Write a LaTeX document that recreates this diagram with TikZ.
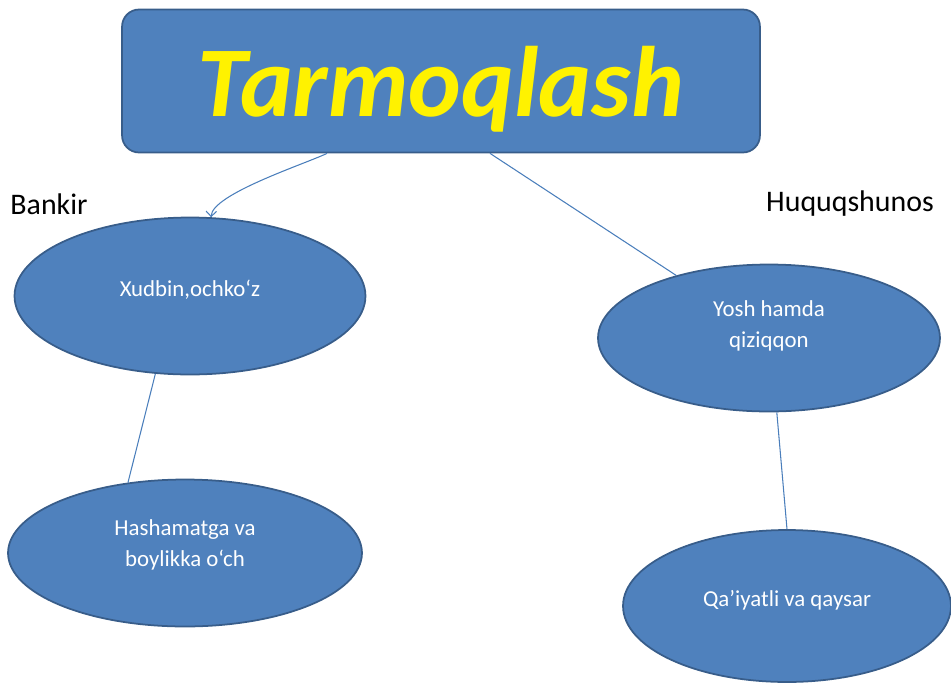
\documentclass[tikz,border=0pt]{standalone}
\usepackage{fontspec}
\setmainfont{Carlito}
\usetikzlibrary{shapes.geometric,arrows.meta}
\definecolor{boxblue}{HTML}{4F81BD}
\definecolor{edgeblue}{HTML}{385D8A}
\definecolor{lineblue}{HTML}{4A7EBB}
\begin{document}
\begin{tikzpicture}[x=0.02cm, y=-0.02cm,
	oval/.style={ellipse, draw=edgeblue, line width=1pt, fill=boxblue, inner sep=0pt,
		text=white, align=center, font=\fontsize{13}{18}\selectfont},
	role/.style={font=\fontsize{17}{20}\selectfont},
	link/.style={draw=lineblue, line width=0.6pt}]
		\useasboundingbox (0, 0) rectangle (951, 684);
		\node[rounded corners=0.34cm, draw=edgeblue, line width=1pt, fill=boxblue,
			minimum width=12.76cm, minimum height=2.86cm, text=yellow, text depth=0pt,
			font=\fontsize{57}{60}\selectfont\bfseries\itshape] (title) at (441, 81) {Tarmoqlash};
		\node[role] (bankir) at (49, 204) {Bankir};
		\node[role] (huquq) at (850, 204) {Huquqshunos};
		\node[oval, minimum width=7.02cm, minimum height=3.14cm, text depth=8.5pt] (xudbin) at (190, 296) {Xudbin,ochko‘z};
		\node[oval, minimum width=6.84cm, minimum height=2.94cm, text depth=16pt] (yosh) at (769, 338) {Yosh hamda\\qiziqqon};
		\node[oval, minimum width=7.08cm, minimum height=2.94cm, text depth=11.5pt] (hasham) at (185, 553) {Hashamatga va\\boylikka o‘ch};
		\node[oval, minimum width=6.56cm, minimum height=3.04cm, text depth=8.5pt] (qaiyat) at (787, 606) {Qa’iyatli va qaysar};
		\draw[link, -{Straight Barb[length=3pt, width=6pt]}] ([xshift=-2.28cm]title.south)
			to[out=-154, in=88, looseness=0.45] (xudbin.75);
		\draw[link] ([xshift=0.98cm]title.south) -- (yosh.146);
		\draw[link] (xudbin.246) -- (hasham.129);
		\draw[link] (yosh.276) -- (qaiyat.north);
	\end{tikzpicture}
\end{document}
